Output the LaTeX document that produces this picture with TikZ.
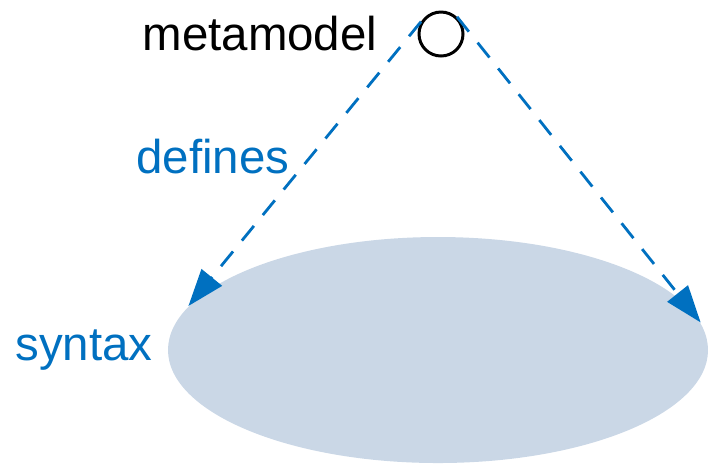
\documentclass[tikz,border=0pt]{standalone}
\usepackage{fontspec}
\setmainfont{Liberation Sans}
\usetikzlibrary{arrows.meta,shapes.geometric}
\definecolor{ink}{HTML}{000000}
\definecolor{defblue}{HTML}{0070C0}
\definecolor{synfill}{HTML}{CAD7E6}
\newcommand{\labelsize}{\fontsize{13.5}{16}\selectfont}
\tikzset{
 every node/.append style={font=\labelsize,text=ink},
 word/.style={inner sep=0pt},
 blueword/.style={word,text=defblue},
 metanode/.style={circle,draw=ink,line width=.85pt,minimum size=4.4mm,inner sep=0pt,fill=white},
 region/.style={ellipse,fill=synfill,draw=none,minimum width=54mm,minimum height=22.6mm,inner sep=0pt},
 defines/.style={-{Triangle[length=3.7mm,width=2.6mm]},draw=defblue,line width=.8pt,dash pattern=on 1.9mm off 1.4mm},
}
\begin{document}
\begin{tikzpicture}

\useasboundingbox (0,0) rectangle (7.08,-4.64);
\node[region] (syn) at (4.38,-3.5) {};
\node[metanode] (mm) at (4.41,-.34) {};
\node[word,anchor=east] (mmlabel) at (3.78,-.34) {metamodel};
\node[blueword] (synlabel) at (.84,-3.5) {syntax};
\node[blueword] (deflabel) at (2.13,-1.57) {defines};
\coordinate (lefttip) at (syn.170);
\coordinate (righttip) at (syn.6);
\draw[defines] (mm.148) -- (lefttip);
\draw[defines] (mm.47) -- (righttip);

\end{tikzpicture}
\end{document}
